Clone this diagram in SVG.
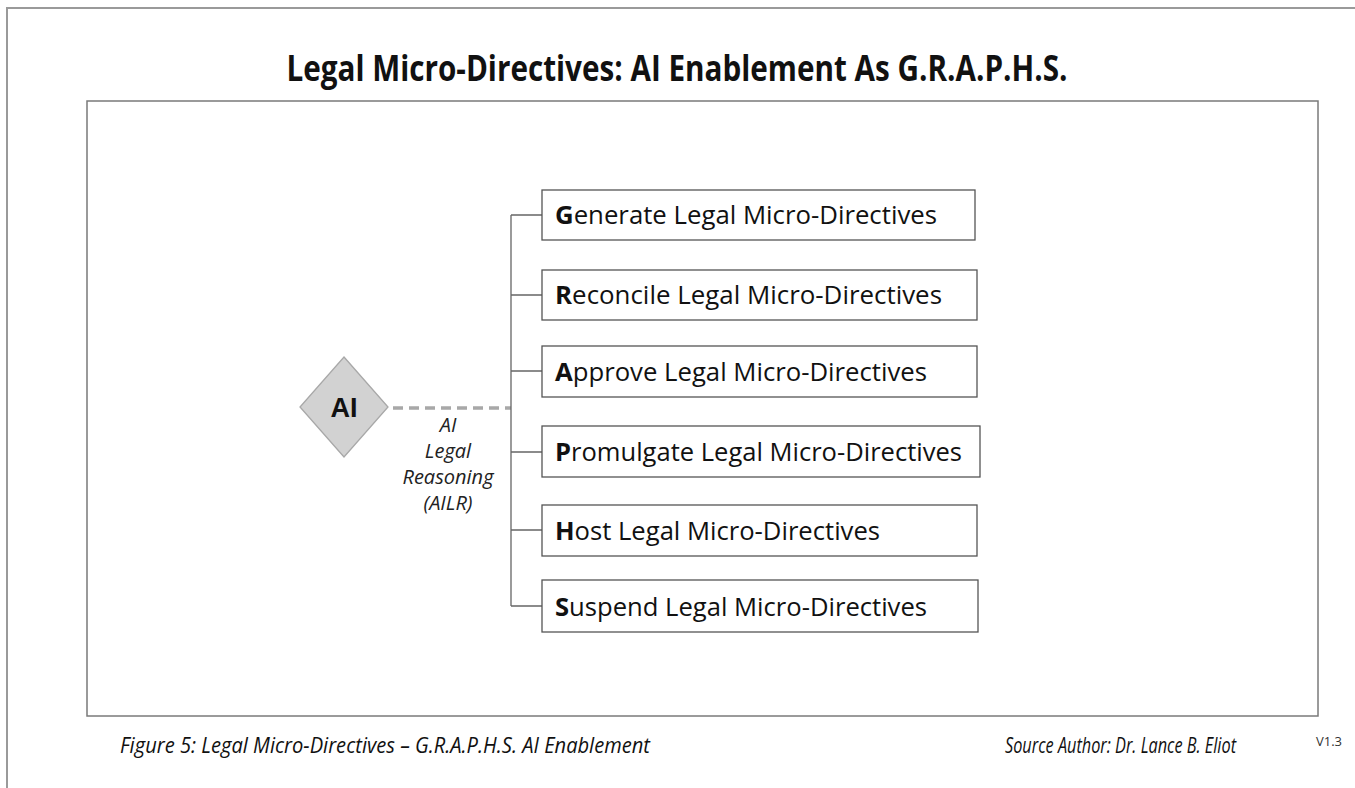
<svg xmlns="http://www.w3.org/2000/svg" width="1355" height="788" viewBox="0 0 1355 788">
<style>
.box{fill:#fff;stroke:#555;stroke-width:1.3}
.bt{font-family:"Open Sans","Liberation Sans",sans-serif;font-size:25px;fill:#111}
.bt tspan.b{font-weight:bold}
.conn{stroke:#666;stroke-width:1.3;fill:none}
.lbl{font-family:"Open Sans","Liberation Sans",sans-serif;font-style:italic;font-size:20px;fill:#222;text-anchor:middle}
.foot{font-family:"Open Sans","Liberation Sans",sans-serif;font-style:italic;font-size:21px;fill:#111}
</style>
<rect width="1355" height="788" fill="#fff"/>
<g id="page-border">
<path d="M7 788 V8 H1355" fill="none" stroke="#9a9a9a" stroke-width="2"/>
<rect x="87" y="101" width="1231" height="615" fill="none" stroke="#7a7a7a" stroke-width="1.5"/>
</g>
<text id="title" x="677" y="81" text-anchor="middle" font-family="'Open Sans','Liberation Sans',sans-serif" font-weight="bold" font-size="36" fill="#111" textLength="781" lengthAdjust="spacingAndGlyphs">Legal Micro-Directives: AI Enablement As G.R.A.P.H.S.</text>
<g id="connectors">
<line x1="393" y1="408" x2="511" y2="408" stroke="#a8a8a8" stroke-width="3.5" stroke-dasharray="10 6"/>
<path class="conn" d="M511 215 V606 M511 215 H542 M511 295 H542 M511 371 H542 M511 452 H542 M511 530 H542 M511 606 H542"/>
</g>
<g id="node-ai">
<polygon points="344,357 388,407 344,457 300,407" fill="#d2d2d2" stroke="#a8a8a8" stroke-width="1.3"/>
<text x="344" y="417" text-anchor="middle" font-family="'Liberation Sans',Arial,sans-serif" font-weight="bold" font-size="27" fill="#111">AI</text>
</g>
<g id="label-ailr">
<text class="lbl" x="448" y="432">AI</text>
<text class="lbl" x="448" y="458">Legal</text>
<text class="lbl" x="448" y="484">Reasoning</text>
<text class="lbl" x="448" y="510">(AILR)</text>
</g>
<g id="node-g">
<rect class="box" x="542" y="190" width="433" height="50"/>
<text class="bt" x="555" y="224" textLength="382" lengthAdjust="spacingAndGlyphs"><tspan class="b">G</tspan>enerate Legal Micro-Directives</text>
</g>
<g id="node-r">
<rect class="box" x="542" y="270" width="435" height="50"/>
<text class="bt" x="555" y="304" textLength="387" lengthAdjust="spacingAndGlyphs"><tspan class="b">R</tspan>econcile Legal Micro-Directives</text>
</g>
<g id="node-a">
<rect class="box" x="542" y="346" width="435" height="51"/>
<text class="bt" x="555" y="381" textLength="372" lengthAdjust="spacingAndGlyphs"><tspan class="b">A</tspan>pprove Legal Micro-Directives</text>
</g>
<g id="node-p">
<rect class="box" x="542" y="426" width="438" height="51"/>
<text class="bt" x="555" y="461" textLength="407" lengthAdjust="spacingAndGlyphs"><tspan class="b">P</tspan>romulgate Legal Micro-Directives</text>
</g>
<g id="node-h">
<rect class="box" x="542" y="505" width="435" height="51"/>
<text class="bt" x="555" y="540" textLength="325" lengthAdjust="spacingAndGlyphs"><tspan class="b">H</tspan>ost Legal Micro-Directives</text>
</g>
<g id="node-s">
<rect class="box" x="542" y="580" width="436" height="52"/>
<text class="bt" x="555" y="616" textLength="372" lengthAdjust="spacingAndGlyphs"><tspan class="b">S</tspan>uspend Legal Micro-Directives</text>
</g>
<g id="footer">
<text class="foot" x="120" y="753" textLength="530" lengthAdjust="spacingAndGlyphs">Figure 5: Legal Micro-Directives – G.R.A.P.H.S. AI Enablement</text>
<text class="foot" x="1005" y="753" textLength="231" lengthAdjust="spacingAndGlyphs">Source Author: Dr. Lance B. Eliot</text>
<text x="1316" y="746" font-family="'Open Sans','Liberation Sans',sans-serif" font-size="13" fill="#333">V1.3</text>
</g>
</svg>
